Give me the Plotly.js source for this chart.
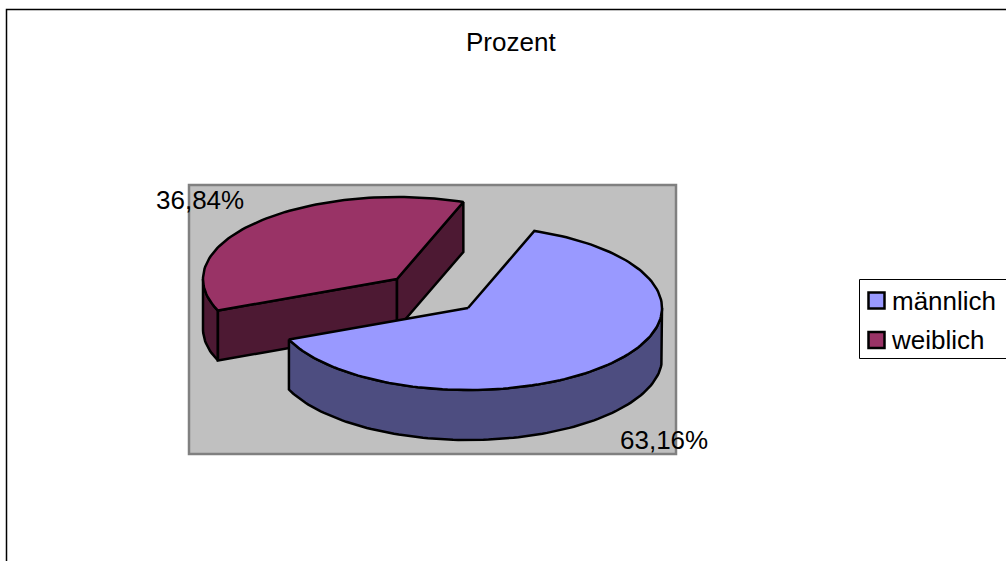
<!DOCTYPE html>
<html>
<head>
<meta charset="utf-8">
<script src="https://cdn.plot.ly/plotly-3.0.1.min.js"></script>
<style>html,body{margin:0;padding:0;background:#fff;overflow:hidden}</style>
</head>
<body>
<div id="chart" style="width:1006px;height:561px"></div>
<script>
const chartTitle = "Prozent";
const categories = ["männlich", "weiblich"];
const percentValues = [63.16, 36.84];
const sliceTopColors = ["#9999FF", "#993366"];
const sliceSideColors = ["#4D4D80", "#4D1933"];

// Projection of the 3D pie onto the page (ellipse radii, wall depth, exploded centres)
const RX = 194, RY = 82, DEPTH = 50;
const centers = [[468, 308], [397, 279]];
const START_DEG = 70;
const FONT = "Liberation Sans, Arial, sans-serif";

const sweep = percentValues.map(v => v / 100 * 360);
// male slice runs clockwise from START_DEG, female slice continues from there
const maleEnd = START_DEG - sweep[0];
const femaleEnd = maleEnd - sweep[1];

function pt(c, deg, drop) {
  const t = deg * Math.PI / 180;
  return [c[0] + RX * Math.cos(t), c[1] - RY * Math.sin(t) + (drop || 0)];
}
function arc(c, from, to, drop) {
  const n = Math.max(2, Math.ceil(Math.abs(to - from) / 1.5));
  const out = [];
  for (let i = 0; i <= n; i++) out.push(pt(c, from + (to - from) * i / n, drop));
  return out;
}
function poly(points, fill, name) {
  return {
    type: "scatter", mode: "lines", x: points.map(p => p[0]), y: points.map(p => p[1]),
    fill: "toself", fillcolor: fill, line: {color: "#000", width: 2.5, shape: "linear"},
    hoverinfo: "skip", showlegend: false, name: name
  };
}
function wall(c, a) { // flat cut face from centre to rim point a
  const r = pt(c, a);
  return [[c[0], c[1]], r, [r[0], r[1] + DEPTH], [c[0], c[1] + DEPTH], [c[0], c[1]]];
}
function curvedWall(c, from, to) {
  const top = arc(c, from, to, 0), bot = arc(c, to, from, DEPTH);
  return top.concat(bot, [top[0]]);
}

const cF = centers[1], cM = centers[0];
const femaleLeftEnd = maleEnd + 360; // same rim angle seen from the left side
const traces = [
  // weiblich: side walls, then top
  poly(curvedWall(cF, 180, femaleLeftEnd), sliceSideColors[1], categories[1]),
  poly(wall(cF, femaleLeftEnd), sliceSideColors[1], categories[1]),
  poly(wall(cF, femaleEnd + 360), sliceSideColors[1], categories[1]),
  poly([cF].concat(arc(cF, femaleEnd + 360, femaleLeftEnd), [cF]), sliceTopColors[1], categories[1]),
  // männlich: front wall, then top
  poly(curvedWall(cM, maleEnd, 0), sliceSideColors[0], categories[0]),
  poly([cM].concat(arc(cM, START_DEG, maleEnd), [cM]), sliceTopColors[0], categories[0])
];

const fmt = v => v.toFixed(2).replace(".", ",") + "%";
const legendRows = [300.5, 340];
const annotations = [
  {x: 511, y: 42, text: chartTitle, size: 26, anchor: "center"},
  {x: 200, y: 200, text: fmt(percentValues[1]), size: 26, anchor: "center"},
  {x: 664, y: 439.5, text: fmt(percentValues[0]), size: 26, anchor: "center"},
  {x: 890, y: legendRows[0], text: categories[0], size: 26, anchor: "left"},
  {x: 889, y: legendRows[1], text: categories[1], size: 26, anchor: "left"}
].map(a => ({
  x: a.x, y: a.y, xref: "x", yref: "y", text: a.text, showarrow: false,
  xanchor: a.anchor, yanchor: "middle", font: {family: FONT, size: a.size, color: "#000"}
}));

const swatch = (row, i) => ({
  type: "rect", xref: "x", yref: "y", layer: "above",
  x0: 868.5, x1: 884.5, y0: row - 8, y1: row + 8,
  fillcolor: sliceTopColors[i], line: {color: "#000", width: 2.5}
});

const shapes = [
  {type: "path", xref: "x", yref: "y", layer: "below", path: "M 6.5 561 L 6.5 9.5 L 1006 9.5", line: {color: "#000", width: 1.5}},
  {type: "rect", xref: "x", yref: "y", layer: "below", x0: 189, x1: 676, y0: 185, y1: 454, fillcolor: "#C0C0C0", line: {color: "#808080", width: 2.5}},
  {type: "path", xref: "x", yref: "y", layer: "below", path: "M 1006 279.5 L 859.5 279.5 L 859.5 358.5 L 1006 358.5", line: {color: "#000", width: 1}},
  swatch(legendRows[0], 0),
  swatch(legendRows[1], 1)
];

const axis = {visible: false, showgrid: false, zeroline: false, fixedrange: true};
Plotly.newPlot("chart", traces, {
  width: 1006, height: 561, margin: {l: 0, r: 0, t: 0, b: 0},
  paper_bgcolor: "#fff", plot_bgcolor: "rgba(0,0,0,0)", showlegend: false,
  xaxis: Object.assign({range: [0, 1006]}, axis),
  yaxis: Object.assign({range: [561, 0]}, axis),
  shapes: shapes, annotations: annotations, hovermode: false
}, {displayModeBar: false, staticPlot: true});
</script>
</body>
</html>
